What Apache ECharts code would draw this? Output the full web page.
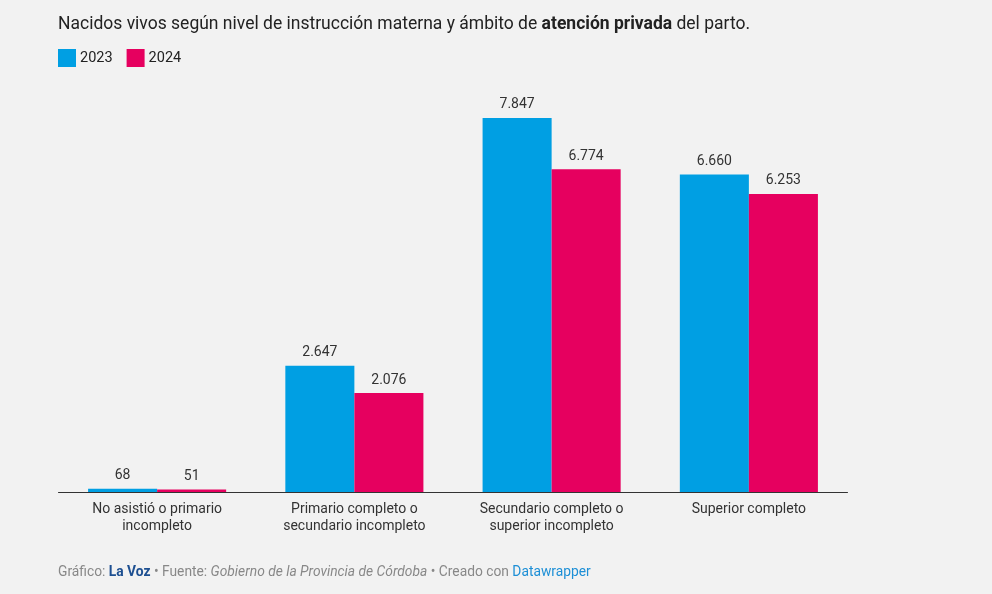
<!DOCTYPE html>
<html><head><meta charset="utf-8">
<script src="https://cdn.jsdelivr.net/npm/echarts@6/dist/echarts.min.js"></script>
<style>html,body{margin:0;padding:0;background:#f2f2f2}#c{width:992px;height:594px}</style>
</head><body><div id="c"></div>
<script>
const categories = ["No asistió o primario\nincompleto", "Primario completo o\nsecundario incompleto", "Secundario completo o\nsuperior incompleto", "Superior completo"];
const values2023 = [68, 2647, 7847, 6660];
const values2024 = [51, 2076, 6774, 6253];
const seriesNames = ["2023", "2024"];

const fmt = v => String(v.value).replace(/\B(?=(\d{3})+(?!\d))/g, '.');
const chart = echarts.init(document.getElementById('c'));
const F = 'Roboto, "Noto Sans", sans-serif';
chart.setOption({
  backgroundColor: '#f2f2f2',
  textStyle: {fontFamily: F},
  title: [{
    left: 53, top: 11,
    text: '{a|Nacidos vivos según nivel de instrucción materna y ámbito de }{b|atención privada}{a| del parto.}',
    textStyle: {fontWeight: 'normal', rich: {
      a: {fontSize: 17.5, color: '#222', fontWeight: 'normal', fontFamily: F},
      b: {fontSize: 17.5, color: '#222', fontWeight: 'bold', fontFamily: F}
    }}
  }, {
    left: 53, top: 561,
    text: '{g|Gráfico: }{v|La Voz}{g| • Fuente: }{i|Gobierno de la Provincia de Córdoba}{g| • Creado con }{d|Datawrapper}',
    textStyle: {fontWeight: 'normal', rich: {
      g: {fontSize: 13.8, color: '#888', fontWeight: 'normal', fontFamily: F},
      v: {fontSize: 13.8, color: '#1d4f91', fontWeight: 'bold', fontFamily: F},
      i: {fontSize: 13.8, color: '#888', fontWeight: 'normal', fontStyle: 'italic', fontFamily: F},
      d: {fontSize: 13.8, color: '#1d8fd6', fontWeight: 'normal', fontFamily: F}
    }}
  }],
  legend: {
    left: 53, top: 44, icon: 'rect', itemWidth: 18, itemHeight: 18, itemGap: 14,
    textStyle: {fontSize: 14.5, color: '#222', fontFamily: F, padding: [0,0,0,-1]},
    data: seriesNames
  },
  grid: {left: 58.5, width: 789, top: 110.7, bottom: 102},
  xAxis: {
    type: 'category', data: categories,
    axisLine: {lineStyle: {color: '#333', width: 1}},
    axisTick: {show: false},
    axisLabel: {fontSize: 14, color: '#333', lineHeight: 17, margin: 9, fontFamily: F}
  },
  yAxis: {type: 'value', min: 0, max: 8000, show: false, splitLine: {show: false}},
  series: [
    {name: seriesNames[0], type: 'bar', data: values2023, barGap: '0%', barCategoryGap: '30%',
     itemStyle: {color: '#009fe3'},
     label: {show: true, position: 'top', distance: 6, fontSize: 14, color: '#333', formatter: fmt, fontFamily: F}},
    {name: seriesNames[1], type: 'bar', data: values2024, barGap: '0%', barCategoryGap: '30%',
     itemStyle: {color: '#e6005f'},
     label: {show: true, position: 'top', distance: 6, fontSize: 14, color: '#333', formatter: fmt, fontFamily: F}}
  ]
});
</script></body></html>
